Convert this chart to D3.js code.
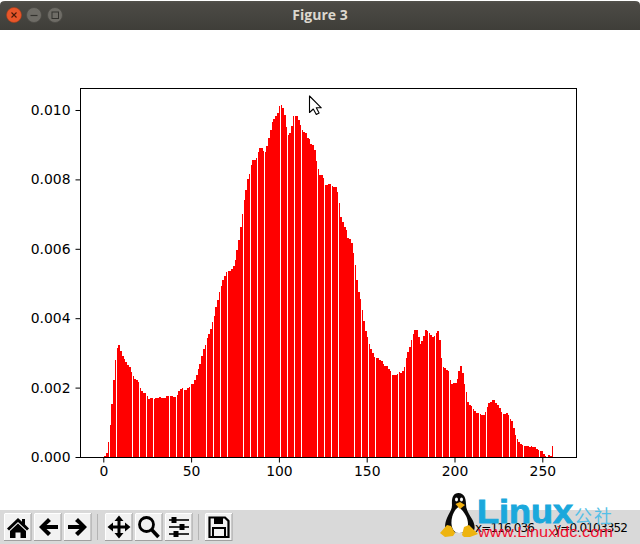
<!DOCTYPE html>
<html><head><meta charset="utf-8">
<script src="https://cdn.jsdelivr.net/npm/d3@7"></script>
<style>html,body{margin:0;padding:0;background:#fff;overflow:hidden}svg{display:block}</style>
</head><body><script>
// density per grey level, in units of 1e-5
const densityE5 = [0,3,12,43,92,153,221,280,313,323,305,291,283,273,265,259,245,234,225,222,
216,199,190,184,184,175,167,170,170,168,170,170,173,170,170,170,176,176,176,176,
173,173,179,190,195,199,194,194,199,201,209,210,222,236,253,268,291,311,323,343,
355,369,389,406,433,452,476,493,510,521,533,536,536,541,550,567,596,625,662,700,
740,769,801,815,841,855,855,861,878,890,890,881,878,896,919,942,965,973,982,991,
1011,1014,1005,985,950,927,933,953,982,982,982,971,956,942,936,933,919,916,901,899,
884,853,829,812,812,804,783,783,786,786,781,778,778,763,732,691,677,662,654,631,
628,616,588,553,510,475,455,423,392,363,345,325,311,300,288,285,285,279,276,268,
262,262,253,248,236,236,236,239,245,242,248,259,285,302,317,337,354,366,366,346,
325,334,348,366,363,357,351,346,348,357,363,337,285,259,256,251,248,222,210,213,
213,225,248,262,242,210,187,158,150,147,138,132,127,127,124,121,121,130,144,156,
158,164,164,156,150,141,130,124,124,127,121,109,104,84,63,52,43,37,35,32,
32,32,29,32,29,29,23,20,17,17,9,3,0,6,3,32];
const xTicks = [0,50,100,150,200,250];
const yTicks = [0,0.002,0.004,0.006,0.008,0.010];
const toolButtons = ["home","back","forward","pan","zoom","sliders","save"];
const binStart = -0.416, binStep = 1.0034, binFill = 0.892;
const titleText = "Figure 3";
const coordX = "x=116.036", coordY = "y=0.0103352";

const svg = d3.select("body").append("svg").attr("width",640).attr("height",544)
  .style("font-family","'DejaVu Sans'");
const defs = svg.append("defs");
const g1 = defs.append("linearGradient").attr("id","tb").attr("x1",0).attr("x2",0).attr("y1",0).attr("y2",1);
g1.append("stop").attr("offset",0).attr("stop-color","#54524c");
g1.append("stop").attr("offset",0.1).attr("stop-color","#4c4a45");
g1.append("stop").attr("offset",1).attr("stop-color","#3f3e39");

// ---- title bar
svg.append("rect").attr("width",640).attr("height",544).attr("fill","#fff");
svg.append("path").attr("d","M0,30V5Q0,1 5,1H635Q640,1 640,5V30Z").attr("fill","url(#tb)");
svg.append("circle").attr("cx",14).attr("cy",15).attr("r",7.5).attr("fill","#e8562a").attr("stroke","#a83c18").attr("stroke-width",.6);
svg.append("path").attr("d","M11.5,12.5L16.5,17.5M16.5,12.5L11.5,17.5").attr("stroke","#4a1a08").attr("stroke-width",1.1);
[34,55].forEach(cx=>svg.append("circle").attr("cx",cx).attr("cy",15).attr("r",7.5).attr("fill","#6e6c66").attr("stroke","#4b4a45").attr("stroke-width",.8));
svg.append("path").attr("d","M30.5,15.5H37.5").attr("stroke","#33322e").attr("stroke-width",1.2);
svg.append("rect").attr("x",52).attr("y",12).attr("width",6.5).attr("height",6.5).attr("fill","none").attr("stroke","#33322e").attr("stroke-width",1);
svg.append("text").text(titleText).attr("x",320).attr("y",20).attr("text-anchor","middle")
  .attr("font-family","'Open Sans'").attr("font-weight",700).attr("font-size",14).attr("fill","#dcd8cf");

// ---- chart
const plotLeft=80,plotRight=576,plotTop=88,plotBottom=457;
const x = d3.scaleLinear().domain([-13.27,269.19]).range([plotLeft,plotRight]);
const y = d3.scaleLinear().domain([0,0.010634]).range([plotBottom,plotTop]);
const values = densityE5.map(v=>v*1e-5);
svg.append("g").attr("shape-rendering","crispEdges").selectAll("rect").data(values).join("rect")
  .attr("x",(d,i)=>Math.round(x(binStart+i*binStep)))
  .attr("width",(d,i)=>Math.round(x(binStart+(i+binFill)*binStep))-Math.round(x(binStart+i*binStep)))
  .attr("y",d=>Math.round(y(d)))
  .attr("height",d=>plotBottom-Math.round(y(d)))
  .attr("fill","#ff0000");
const frame = svg.append("g");
frame.append("rect").attr("x",plotLeft+.5).attr("y",plotTop+.5).attr("width",plotRight-plotLeft).attr("height",plotBottom-plotTop)
  .attr("fill","none").attr("stroke","#000").attr("stroke-width",1);
const xAxis = d3.axisBottom(x).tickValues(xTicks).tickSize(5).tickPadding(4).tickFormat(d3.format("d"));
const yAxis = d3.axisLeft(y).tickValues(yTicks).tickSize(5).tickPadding(5).tickFormat(d3.format(".3f"));
const gx = svg.append("g").attr("transform",`translate(0,${plotBottom+.5})`).call(xAxis);
const gy = svg.append("g").attr("transform",`translate(${plotLeft+.5},0)`).call(yAxis);
[gx,gy].forEach(g=>{g.select(".domain").remove();
  g.selectAll("text").attr("font-family","'DejaVu Sans'").attr("font-size",13.9).attr("fill","#000");
  g.selectAll("line").attr("stroke","#000").attr("stroke-width",1);});

// ---- mouse cursor
svg.append("path").attr("transform","translate(309.5,96)")
  .attr("d","M0,0V16.5L3.8,13L6.8,18.5L9.6,17L6.8,11.8H11.8Z")
  .attr("fill","#fff").attr("stroke","#000").attr("stroke-width",1.1).attr("stroke-linejoin","round");

// ---- toolbar
svg.append("rect").attr("y",510).attr("width",640).attr("height",34).attr("fill","#d9d9d9");
const btnX = d3.scaleOrdinal().domain(toolButtons).range([4,34,64,105,135,165,205]);
const btn = svg.append("g").selectAll("g").data(toolButtons).join("g")
  .attr("transform",d=>`translate(${btnX(d)},513)`);
btn.append("rect").attr("x",.5).attr("y",.5).attr("width",26.5).attr("height",27).attr("fill","#f2f2f2").attr("stroke","#a0a0a0");
btn.append("path").attr("d","M.5,27V.5H27").attr("fill","none").attr("stroke","#fff");
const icons = {
 home:"M14,5L3,15.5L5,17.5L14,9L23,17.5L25,15.5L21,11.5V6H18V8.8ZM6,18L14,10.5L22,18V25H16.5V19.5H11.5V25H6Z",
 back:"M5,14L14,5L17,8L12.5,12H24V16H12.5L17,20L14,23Z",
 forward:"M23,14L14,5L11,8L15.5,12H4V16H15.5L11,20L14,23Z",
 pan:"M14,2.5L18.5,8H15.5V12.5H20V9.5L25.5,14L20,18.5V15.5H15.5V20H18.5L14,25.5L9.5,20H12.5V15.5H8V18.5L2.5,14L8,9.5V12.5H12.5V8H9.5Z"
};
btn.filter(d=>icons[d]).append("path").attr("d",d=>icons[d]).attr("fill","#000");
const zb = btn.filter(d=>d==="zoom");
zb.append("circle").attr("cx",11.5).attr("cy",11.5).attr("r",7).attr("fill","none").attr("stroke","#000").attr("stroke-width",2.8);
zb.append("path").attr("d","M16.5,16.5L23.5,24").attr("stroke","#000").attr("stroke-width",3.6);
const sb = btn.filter(d=>d==="sliders");
[[7,9],[14,17],[21,11]].forEach(([yy,kx])=>{
  sb.append("path").attr("d",`M4,${yy}H24`).attr("stroke","#000").attr("stroke-width",1.6);
  sb.append("rect").attr("x",kx-2.5).attr("y",yy-3).attr("width",5).attr("height",6).attr("fill","#000");
});
const sv = btn.filter(d=>d==="save");
sv.append("path").attr("d","M4.5,4.5H20L23.5,8V24H4.5Z").attr("fill","none").attr("stroke","#000").attr("stroke-width",2.2);
sv.append("rect").attr("x",9).attr("y",4.5).attr("width",9).attr("height",6.5).attr("fill","#000");
sv.append("rect").attr("x",8).attr("y",15).attr("width",12).attr("height",9).attr("fill","none").attr("stroke","#000").attr("stroke-width",2);
[97.5,198.5].forEach(sx=>svg.append("path").attr("d",`M${sx},514V540`).attr("stroke","#b4b4b4").attr("stroke-width",1));

// ---- coordinates readout
svg.append("text").text(coordX).attr("x",475).attr("y",532).attr("font-size",12).attr("textLength",60).attr("fill","#000");
svg.append("text").text(coordY).attr("x",554).attr("y",532).attr("font-size",12).attr("textLength",74).attr("fill","#000");

// ---- watermark
const wm = svg.append("g");
wm.append("path").attr("d","M458.5,493C453,493 451.5,498 452,505C452,510 449,513 447,518C445,523 444,528 447,532L472,533C476,530 475,524 472,519C469,514 466,510 466,504C466,498 464,493 458.5,493Z").attr("fill","#0a0a0a");
wm.append("path").attr("d","M458.5,507C454,510 451,517 451.5,524C452,530 455,533 459,533C464,533 468,530 468,524C468,517 463,510 458.5,507Z").attr("fill","#fff");
wm.append("path").attr("d","M455.5,504L460,502L465,505L460,509Z").attr("fill","#f2b010");
wm.append("path").attr("d","M440,533L447,525L451,526L455,533L453,536L445,537ZM462,535L464,527L469,525L474,530L478,534L470,537L464,537Z").attr("fill","#eeb40f");
wm.append("ellipse").attr("cx",456.5).attr("cy",499.5).attr("rx",1.5).attr("ry",2.1).attr("fill","#fff");
wm.append("ellipse").attr("cx",461.5).attr("cy",499.5).attr("rx",1.5).attr("ry",2.1).attr("fill","#fff");
wm.append("text").text("Linux").attr("x",477).attr("y",523).attr("font-family","'Liberation Sans'").attr("font-weight",700)
  .attr("font-size",34).attr("textLength",96).attr("lengthAdjust","spacingAndGlyphs").attr("fill","#1aa8dc")
  .attr("stroke","#1aa8dc").attr("stroke-width",.9);
wm.append("text").text("公社").attr("x",574).attr("y",523).attr("font-family","'Noto Sans CJK SC'")
  .attr("font-size",18).attr("textLength",38).attr("fill","#55bfe6");
wm.append("text").text("www.Linuxidc.com").attr("x",478).attr("y",537).attr("font-family","'Liberation Sans'")
  .attr("font-size",15.5).attr("textLength",135).attr("lengthAdjust","spacingAndGlyphs").attr("fill","#f0102e");
</script></body></html>
